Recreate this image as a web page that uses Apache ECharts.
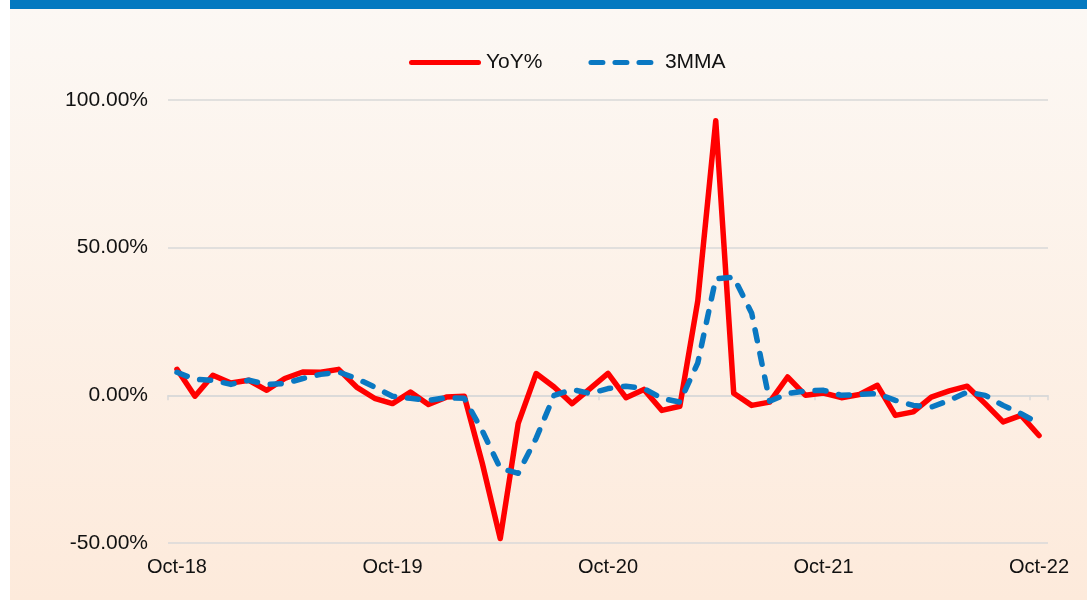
<!DOCTYPE html>
<html lang="en">
<head>
    <meta charset="UTF-8">
    <title>YoY% and 3MMA</title>
    <style>
        html, body { margin: 0; padding: 0; background: #fff; }
        #main { width: 1087px; height: 600px; }
    </style>
</head>
<body>
<div id="main"></div>

<script type="text/javascript" src="https://cdn.jsdelivr.net/npm/echarts@6/dist/echarts.min.js"></script>
<script>
    // monthly labels Oct-18 .. Oct-22
    var monthNames = ['Jan','Feb','Mar','Apr','May','Jun','Jul','Aug','Sep','Oct','Nov','Dec'];
    var months = [];
    for (var i = 0; i < 49; i++) {
        var m = (9 + i) % 12;
        var y = 18 + Math.floor((9 + i) / 12);
        months.push(monthNames[m] + '-' + y);
    }

    // YoY% (red)
    var yoy = [8.8, -0.3, 6.8, 4.2, 5.1, 1.7, 5.7, 7.9, 7.8, 8.8, 2.8, -1.0,
        -2.8, 1.1, -3.1, -0.6, -0.3, -23, -48.5, -9.5, 7.4, 2.8, -2.8, 2.3,
        7.4, -0.8, 2.0, -5.1, -3.7, 32, 93, 0.7, -3.4, -2.3, 6.2, 0.0,
        0.8, -0.8, 0.3, 3.4, -6.8, -5.6, -0.6, 1.5, 3.1, -2.8, -9.0, -6.8,
        -13.6];

    // 3MMA (blue dashed)
    var mma = [7.8, 5.4, 5.1, 3.7, 5.1, 3.7, 4.0, 5.7, 7.1, 7.9, 5.7, 2.8,
        -0.3, -1.0, -1.7, -0.8, -1.0, -12, -24.7, -26.4, -14.5, 0.0, 2.0, 0.6,
        2.3, 3.1, 2.3, -1.0, -2.3, 11, 39.5, 40, 27.8, -2.0, 0.6, 1.5,
        1.7, 0.0, 0.3, 0.6, -1.7, -3.4, -4.0, -1.7, 1.1, 0.0, -3.4, -6.2,
        -9.6];

    var yTicks = [-50, 0, 50, 100];

    // legend icons: solid bar and three dashes, rounded ends
    function dash(x, w) {
        return 'M' + (x + 2.5) + ',0H' + (x + w - 2.5) + 'A2.5,2.5 0 0 1 ' + (x + w - 2.5) + ',5H' +
            (x + 2.5) + 'A2.5,2.5 0 0 1 ' + (x + 2.5) + ',0Z';
    }
    var redIcon = 'path://' + dash(0, 72);
    var blueIcon = 'path://' + dash(0, 17) + dash(24, 17) + dash(48, 17);

    var chart = echarts.init(document.getElementById('main'));
    var font = 'Liberation Sans, Arial, sans-serif';

    var option = {
        backgroundColor: '#ffffff',
        textStyle: { fontFamily: font },
        graphic: [
            {
                type: 'rect', z: -10, silent: true,
                shape: { x: 10, y: 9, width: 1077, height: 591 },
                style: {
                    fill: new echarts.graphic.LinearGradient(0, 0, 0, 1, [
                        { offset: 0, color: '#fcf8f4' },
                        { offset: 1, color: '#fdeadb' }
                    ])
                }
            },
            {
                type: 'rect', z: -10, silent: true,
                shape: { x: 10, y: 0, width: 1077, height: 9 },
                style: { fill: '#0479c0' }
            }
        ],
        legend: {
            left: 404,
            top: 47,
            itemWidth: 72,
            itemHeight: 5,
            itemGap: 46,
            itemStyle: { borderWidth: 0 },
            textStyle: { fontSize: 21, color: '#111', fontFamily: font },
            data: [
                { name: 'YoY%', icon: redIcon },
                { name: '3MMA', icon: blueIcon, textStyle: { padding: [0, 0, 0, 3] } }
            ]
        },
        grid: {
            left: 168,
            right: 39,
            top: 100,
            bottom: 57
        },
        xAxis: [
            {
                type: 'category',
                position: 'bottom',
                data: months,
                boundaryGap: true,
                axisLine: { show: false, onZero: false },
                axisTick: { show: false },
                axisLabel: {
                    interval: 11,
                    margin: 14,
                    fontSize: 20,
                    color: '#111',
                    fontFamily: font
                }
            },
            {
                type: 'category',
                position: 'bottom',
                data: months,
                boundaryGap: true,
                axisLine: { show: true, onZero: true, lineStyle: { color: '#d9d9d9', width: 1.5 } },
                axisTick: { show: true, interval: 11, length: 5, lineStyle: { color: '#d9d9d9', width: 1.5 } },
                axisLabel: { show: false }
            }
        ],
        yAxis: {
            type: 'value',
            min: yTicks[0],
            max: yTicks[yTicks.length - 1],
            interval: 50,
            axisLine: { show: false },
            axisTick: { show: false },
            splitLine: { lineStyle: { color: '#d9d9d9', width: 1.5 } },
            axisLabel: {
                margin: 20,
                fontSize: 21,
                color: '#111',
                fontFamily: font,
                formatter: function (v) { return v.toFixed(2) + '%'; }
            }
        },
        series: [
            {
                name: 'YoY%',
                type: 'line',
                data: yoy,
                symbol: 'none',
                z: 2,
                lineStyle: { color: '#ff0000', width: 5.5, join: 'round', cap: 'round' },
                itemStyle: { color: '#ff0000' }
            },
            {
                name: '3MMA',
                type: 'line',
                data: mma,
                symbol: 'none',
                z: 3,
                lineStyle: { color: '#0a78c2', width: 5.5, type: [11, 13], cap: 'round', join: 'round' },
                itemStyle: { color: '#0a78c2' }
            }
        ]
    };

    chart.setOption(option);
</script>
</body>
</html>
